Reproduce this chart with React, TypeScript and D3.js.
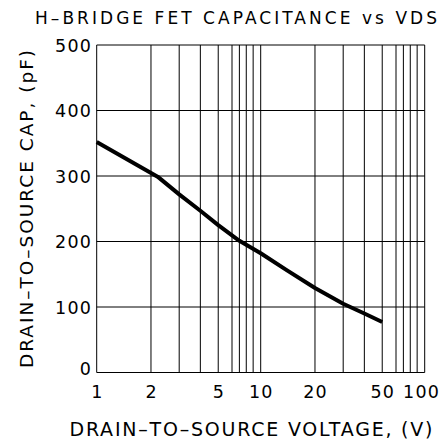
import React from "react";
import * as d3 from "d3";

// ---- data ----
const voltage = [1, 2.2, 3, 4, 5, 7, 10, 14, 20, 30, 40, 50];
const capacitance = [352, 299, 272, 247, 225, 201, 182, 156, 129, 105, 90, 77];

const xTickLabels = [1, 2, 5, 10, 20, 50, 100];
const yTickLabels = [0, 100, 200, 300, 400, 500];
const xGridValues = [1, 2, 3, 4, 5, 6, 7, 8, 9, 10, 20, 30, 40, 50, 60, 70, 80, 90, 100];

// the printed log paper is slightly distorted: position of 1..10 inside a decade
const mantissaValues = [1, 2, 3, 4, 5, 6, 7, 8, 9, 10];
const mantissaFractions = [0, 0.331, 0.503, 0.632, 0.741, 0.825, 0.87, 0.912, 0.954, 1];

const title = "H–BRIDGE FET CAPACITANCE vs VDS";
const xTitle = "DRAIN–TO–SOURCE VOLTAGE, (V)";
const yTitle = "DRAIN–TO–SOURCE CAP, (pF)";

// ---- layout ----
const W = 440;
const H = 440;
const left = 96.7;
const right = 424.7;
const top = 45;
const bottom = 372.5;
const FONT = "'DejaVu Sans', sans-serif";

export default function App() {
  const decade = d3.scaleLinear().domain([0, 2]).range([left, right]);
  const mant = d3
    .scaleLinear()
    .domain(mantissaValues.map((v) => Math.log10(v)))
    .range(mantissaFractions);
  const x = (v: number) => {
    const l = Math.log10(v);
    const f = Math.min(Math.floor(l + 1e-9), 1);
    return decade(f + mant(l - f));
  };
  const y = d3.scaleLinear().domain([0, 500]).range([bottom, top]);

  const line = d3
    .line<number>()
    .x((_, i) => x(voltage[i]))
    .y((d) => y(d))
    .curve(d3.curveLinear);

  const labelLen = (s: string) => s.length * 12.5 - 1.5;

  return (
    <svg
      width={W}
      height={H}
      style={{ position: "fixed", left: 0, top: 0, background: "#fff" }}
      fontFamily={FONT}
    >
      <rect x={0} y={0} width={W} height={H} fill="#fff" />
      {/* horizontal grid */}
      {yTickLabels.map((v) => (
        <line key={"h" + v} x1={left} x2={right} y1={y(v)} y2={y(v)} stroke="#000" strokeWidth={1} />
      ))}
      {/* vertical grid */}
      {xGridValues.map((v) => (
        <line key={"v" + v} x1={x(v)} x2={x(v)} y1={top} y2={bottom} stroke="#000" strokeWidth={1} />
      ))}
      {/* curve */}
      <path
        d={line(capacitance) || ""}
        fill="none"
        stroke="#000"
        strokeWidth={4}
        strokeLinejoin="round"
      />
      {/* y tick labels */}
      {yTickLabels.map((v) => {
        const s = String(v);
        return (
          <text
            key={"yl" + v}
            x={91}
            y={y(v) + 6.5 - (v === 0 ? 4 : 0)}
            textAnchor="end"
            fontSize={17.5}
            fill="#000"
            textLength={s.length > 1 ? labelLen(s) : undefined}
            lengthAdjust="spacing"
          >
            {s}
          </text>
        );
      })}
      {/* x tick labels */}
      {xTickLabels.map((v, i) => {
        const s = String(v);
        const last = i === xTickLabels.length - 1;
        return (
          <text
            key={"xl" + v}
            x={last ? W - 1 : x(v)}
            y={397.5}
            textAnchor={last ? "end" : "middle"}
            fontSize={17.5}
            fill="#000"
            textLength={s.length > 1 ? labelLen(s) : undefined}
            lengthAdjust="spacing"
          >
            {s}
          </text>
        );
      })}
      {/* title */}
      <text x={35} y={23.5} fontSize={17} fill="#000" textLength={402} lengthAdjust="spacing">
        {title}
      </text>
      {/* x axis title */}
      <text x={69.5} y={436} fontSize={19} fill="#000" textLength={363} lengthAdjust="spacing">
        {xTitle}
      </text>
      {/* y axis title */}
      <text
        transform="translate(33,368) rotate(-90)"
        x={0}
        y={0}
        fontSize={18.5}
        fill="#000"
        textLength={318}
        lengthAdjust="spacing"
      >
        {yTitle}
      </text>
    </svg>
  );
}
